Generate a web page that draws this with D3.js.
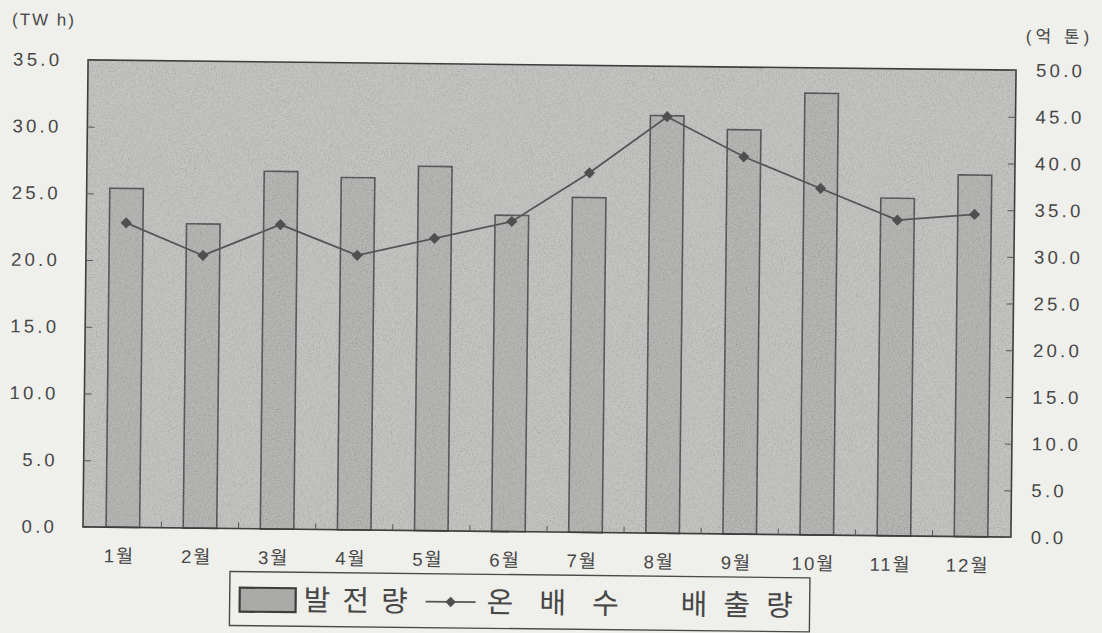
<!DOCTYPE html>
<html>
<head>
<meta charset="utf-8">
<script src="https://cdn.jsdelivr.net/npm/d3@7"></script>
<style>
  html, body { margin: 0; padding: 0; background: #efefec; }
  svg { display: block; }
  text { font-family: "Liberation Sans", Arial, "Noto Sans CJK KR", sans-serif; fill: #474747; }
</style>
</head>
<body>
<svg id="chart" width="1102" height="633"></svg>
<script>
// Monthly power generation (TWh, left axis) and thermal discharge (억 톤, right axis)
const months = ["1월", "2월", "3월", "4월", "5월", "6월", "7월", "8월", "9월", "10월", "11월", "12월"];
const generation = [25.4, 22.8, 26.8, 26.4, 27.3, 23.7, 25.1, 31.3, 30.3, 33.1, 25.3, 27.1];
const discharge = [32.6, 29.2, 32.6, 29.4, 31.3, 33.2, 38.5, 44.6, 40.4, 37.1, 33.8, 34.5];
const leftTicks = [0, 5, 10, 15, 20, 25, 30, 35];
const rightTicks = [0, 5, 10, 15, 20, 25, 30, 35, 40, 45, 50];
const leftUnit = "(TW h)";
const rightUnit = "(억 톤)";
const legendBar = "발전량";
const legendLineWords = ["온배수", "배출량"];

const plot = { left: 85.5, top: 65, width: 928, height: 467 };

const svg = d3.select("#chart");

// fine paper grain for the plot area
const defs = svg.append("defs");
const grain = defs.append("filter").attr("id", "grain").attr("x", 0).attr("y", 0).attr("width", 1).attr("height", 1);
grain.append("feTurbulence").attr("type", "fractalNoise").attr("baseFrequency", 0.7).attr("numOctaves", 2).attr("seed", 3);
grain.append("feColorMatrix").attr("type", "matrix")
  .attr("values", "1.6 0 0 0 -0.2  1.6 0 0 0 -0.2  1.6 0 0 0 -0.2  0 0 0 0 0.2");

// whole figure sits at a slight clockwise tilt
const root = svg.append("g")
  .attr("transform", `rotate(0.63, ${plot.left + plot.width / 2}, ${plot.top + plot.height / 2})`);
const g = root.append("g").attr("transform", `translate(${plot.left},${plot.top})`);

const x = d3.scaleBand().domain(months).range([0, plot.width]).paddingInner(0.565).paddingOuter(0.3);
const yL = d3.scaleLinear().domain([0, 35]).range([plot.height, 0]);
const yR = d3.scaleLinear().domain([0, 50]).range([plot.height, 0]);

// plot background
g.append("rect")
  .attr("width", plot.width).attr("height", plot.height)
  .attr("fill", "#bbbbb9");

// bars
g.selectAll("rect.bar").data(months).join("rect")
  .attr("class", "bar")
  .attr("x", d => x(d))
  .attr("y", (d, i) => yL(generation[i]))
  .attr("width", x.bandwidth())
  .attr("height", (d, i) => plot.height - yL(generation[i]))
  .attr("fill", "#aaaaa8")
  .attr("stroke", "#3c3c3c")
  .attr("stroke-width", 1.6);

// grain overlay
g.append("rect")
  .attr("width", plot.width).attr("height", plot.height)
  .attr("fill", "#fff").attr("filter", "url(#grain)");

// plot frame
g.append("rect")
  .attr("width", plot.width).attr("height", plot.height)
  .attr("fill", "none").attr("stroke", "#3e3e3e").attr("stroke-width", 1.6);

// left axis: inward ticks, labels outside
const axL = g.append("g").call(
  d3.axisLeft(yL).tickValues(leftTicks).tickFormat(d3.format(".1f")).tickSizeInner(-7).tickSizeOuter(0).tickPadding(29)
);
axL.select(".domain").remove();
axL.selectAll("line").attr("stroke", "#555");
axL.selectAll("text").attr("font-size", 18.5).attr("letter-spacing", "3.3px").attr("fill", "#454545")
  .attr("dx", 3.3);

// right axis
const axR = g.append("g").attr("transform", `translate(${plot.width},0)`).call(
  d3.axisRight(yR).tickValues(rightTicks).tickFormat(d3.format(".1f")).tickSizeInner(-7).tickSizeOuter(0).tickPadding(20)
);
axR.select(".domain").remove();
axR.selectAll("line").attr("stroke", "#555");
axR.selectAll("text").attr("font-size", 18.5).attr("letter-spacing", "3.3px").attr("fill", "#454545");

// bottom axis: category labels
const axB = g.append("g").attr("transform", `translate(0,${plot.height})`).call(
  d3.axisBottom(x).tickSize(0).tickPadding(22)
);
axB.select(".domain").remove();
axB.selectAll("text").attr("font-size", 18.5).attr("letter-spacing", "2px").attr("dx", -3).attr("fill", "#454545");

// inward tick marks at category boundaries
const bounds = months.slice(1).map(m => x(m) - x.step() * x.paddingInner() / 2);
g.selectAll("line.xtick").data(bounds).join("line")
  .attr("class", "xtick")
  .attr("x1", d => d).attr("x2", d => d)
  .attr("y1", plot.height).attr("y2", plot.height - 6)
  .attr("stroke", "#555");

// discharge line with diamond markers
const cx = (d, i) => x(months[i]) + x.bandwidth() / 2;
const line = d3.line().x((d, i) => cx(d, i)).y(d => yR(d));
g.append("path").datum(discharge)
  .attr("d", line).attr("fill", "none").attr("stroke", "#555").attr("stroke-width", 1.8);
g.selectAll("path.pt").data(discharge).join("path")
  .attr("class", "pt")
  .attr("d", d3.symbol(d3.symbolDiamond2, 80))
  .attr("transform", (d, i) => `translate(${cx(d, i)},${yR(d)})`)
  .attr("fill", "#505050");

// unit labels
root.append("text").attr("x", 9).attr("y", 31).attr("font-size", 17).attr("letter-spacing", "2px").text(leftUnit);
root.append("text").attr("x", 1023).attr("y", 37).attr("font-size", 17).attr("letter-spacing", "4px").text(rightUnit);

// legend
const lg = root.append("g").attr("transform", "translate(233,575)");
lg.append("rect").attr("width", 580).attr("height", 54)
  .attr("fill", "none").attr("stroke", "#4a4a4a").attr("stroke-width", 1.4);
lg.append("rect").attr("x", 10).attr("y", 16).attr("width", 56).attr("height", 24)
  .attr("fill", "#aaaaa8").attr("stroke", "#3c3c3c").attr("stroke-width", 2.2);
lg.append("text").attr("x", 74).attr("y", 38).attr("font-size", 29).attr("letter-spacing", "12px").text(legendBar);
lg.append("line").attr("x1", 196).attr("x2", 246).attr("y1", 28).attr("y2", 28)
  .attr("stroke", "#555").attr("stroke-width", 1.8);
lg.append("path").attr("d", d3.symbol(d3.symbolDiamond2, 70)).attr("transform", "translate(221,28)").attr("fill", "#505050");
lg.append("text").attr("x", 257).attr("y", 38).attr("font-size", 29).attr("letter-spacing", "26px").text(legendLineWords[0]);
lg.append("text").attr("x", 451).attr("y", 38).attr("font-size", 29).attr("letter-spacing", "16px").text(legendLineWords[1]);
</script>
</body>
</html>
